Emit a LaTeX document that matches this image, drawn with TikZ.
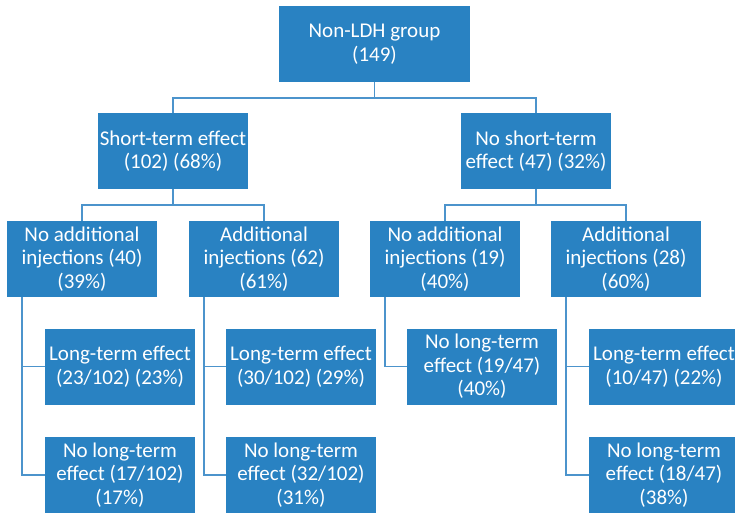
\documentclass[tikz,border=0pt]{standalone}
\usepackage{fontspec}
\setmainfont{Carlito}
\definecolor{BoxClr}{rgb}{0.16,0.51,0.76}
\definecolor{LineClr}{rgb}{0.30,0.58,0.80}
\tikzset{
  box/.style={fill=BoxClr,text=white,minimum width=150pt,minimum height=76pt,
    inner sep=0pt,align=center,font=\fontsize{21}{23.5}\selectfont},
  link/.style={draw=LineClr,line width=1.5pt}
}

\begin{document}
\begin{tikzpicture}[x=1pt,y=-1pt]
\useasboundingbox (0,0) rectangle (735,513);

\node[box,minimum width=191pt] (top) at (374.5,44) {Non-LDH group\\(149)};

\node[box] (st)  at (173,151) {Short-term effect\\(102) (68\%)};
\node[box] (nst) at (536,151) {No short-term\\effect (47) (32\%)};

\node[box] (na1) at (82,259)  {No additional\\injections (40)\\(39\%)};
\node[box] (ad1) at (264,259) {Additional\\injections (62)\\(61\%)};
\node[box] (na2) at (445,259) {No additional\\injections (19)\\(40\%)};
\node[box] (ad2) at (626,259) {Additional\\injections (28)\\(60\%)};

\node[box] (lt1)  at (120,366.5) {Long-term effect\\(23/102) (23\%)};
\node[box] (lt2)  at (301,366.5) {Long-term effect\\(30/102) (29\%)};
\node[box] (nlt3) at (482,366.5) {No long-term\\effect (19/47)\\(40\%)};
\node[box] (lt4)  at (664,366.5) {Long-term effect\\(10/47) (22\%)};

\node[box] (nlt1) at (120,475) {No long-term\\effect (17/102)\\(17\%)};
\node[box] (nlt2) at (301,475) {No long-term\\effect (32/102)\\(31\%)};
\node[box] (nlt4) at (664,475) {No long-term\\effect (18/47)\\(38\%)};

% tree links
\draw[link] (top.south) -- ++(0,16) coordinate (j0) -| (st.north);
\draw[link] (j0) -| (nst.north);
\draw[link] (st.south) -- ++(0,16) coordinate (j1) -| (na1.north);
\draw[link] (j1) -| (ad1.north);
\draw[link] (nst.south) -- ++(0,16) coordinate (j2) -| (na2.north);
\draw[link] (j2) -| (ad2.north);

% side links
\draw[link] ([xshift=15pt]na1.south west) |- (nlt1.west);
\draw[link] ([xshift=15pt]na1.south west) |- (lt1.west);
\draw[link] ([xshift=15pt]ad1.south west) |- (nlt2.west);
\draw[link] ([xshift=15pt]ad1.south west) |- (lt2.west);
\draw[link] ([xshift=15pt]na2.south west) |- (nlt3.west);
\draw[link] ([xshift=15pt]ad2.south west) |- (nlt4.west);
\draw[link] ([xshift=15pt]ad2.south west) |- (lt4.west);

\end{tikzpicture}
\end{document}
